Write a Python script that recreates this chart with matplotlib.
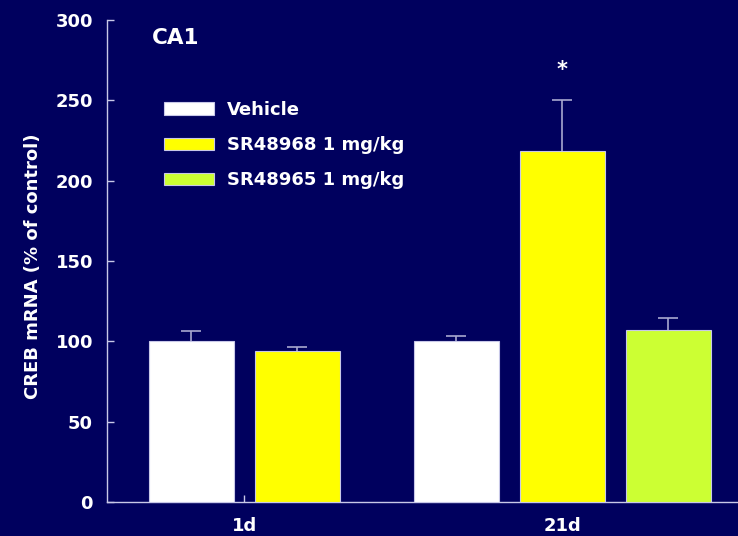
import numpy as np
import matplotlib
matplotlib.use("Agg")
import matplotlib.pyplot as plt

plt.rcParams['font.family'] = ['DejaVu Sans']
plt.rcParams['font.weight'] = 'bold'

groups = ["1d", "21d"]
series = ["Vehicle", "SR48968 1 mg/kg", "SR48965 1 mg/kg"]
colors = ["#ffffff", "#ffff00", "#ccff33"]

# bar positions in slot units (1d has no SR48965 bar)
pos_1d = [0.0, 1.0]
pos_21d = [2.5, 3.5, 4.5]
vals_1d = [100.2, 93.8]
vals_21d = [100.0, 218.7, 106.9]
err_1d = [6.0, 2.5]
err_21d = [3.1, 31.3, 7.4]
star_series = 1  # significance marker on SR48968 at 21d

bg = "#00005e"
line_col = "#c8c8e8"
err_col = "#a8a8d0"

fig = plt.figure(figsize=(7.38, 5.36), dpi=100, facecolor=bg)
ax = fig.add_axes([107 / 738, 34 / 536, 631 / 738, 482 / 536])
ax.set_facecolor(bg)

width = 0.81
handles = []
for i in range(len(series)):
    xs, ys, es = [], [], []
    if i < len(pos_1d):
        xs.append(pos_1d[i]); ys.append(vals_1d[i]); es.append(err_1d[i])
    xs.append(pos_21d[i]); ys.append(vals_21d[i]); es.append(err_21d[i])
    b = ax.bar(xs, ys, width, color=colors[i], edgecolor=line_col, linewidth=0.8,
               label=series[i], zorder=3)
    handles.append(b)
    # upper error only
    eb = ax.errorbar(xs, ys, yerr=[np.zeros(len(es)), es], fmt="none", ecolor=err_col,
                     elinewidth=1.2, capsize=7, capthick=1.2, zorder=2)
    eb[1][0].set_visible(False)

ax.text(pos_21d[star_series], vals_21d[star_series] + err_21d[star_series] + 19, "*",
        color="white", fontsize=15, ha="center", va="center", fontweight="bold")

ax.set_xlim(-0.797, 5.156)
ax.set_ylim(0, 300)
ax.set_yticks([0, 50, 100, 150, 200, 250, 300])
ax.set_xticks([0.5, 3.5])
ax.set_xticklabels(groups)

for s in ["top", "right"]:
    ax.spines[s].set_visible(False)
for s in ["left", "bottom"]:
    ax.spines[s].set_color(line_col)
    ax.spines[s].set_linewidth(1.0)

ax.tick_params(axis="both", direction="in", length=5, width=1, color=line_col,
               labelcolor="white", labelsize=13)
ax.tick_params(axis="y", pad=10)
ax.tick_params(axis="x", pad=11)

ax.set_ylabel("CREB mRNA (% of control)", color="white", fontsize=13, fontweight="bold")
ax.yaxis.set_label_coords(-0.103, 0.49)

fig.text(152 / 738, 1 - 38.5 / 536, "CA1", color="white", fontsize=15.5,
         fontweight="bold", ha="left", va="center")

leg = ax.legend(handles=handles, loc="upper left", bbox_to_anchor=(164 / 738, 1 - 101 / 536),
                bbox_transform=fig.transFigure, frameon=False, fontsize=13,
                handlelength=2.75, handleheight=0.7, labelspacing=0.95,
                handletextpad=0.75, borderpad=0, borderaxespad=0)
for t in leg.get_texts():
    t.set_color("white")

fig.savefig("out.png", dpi=100, facecolor=bg)
